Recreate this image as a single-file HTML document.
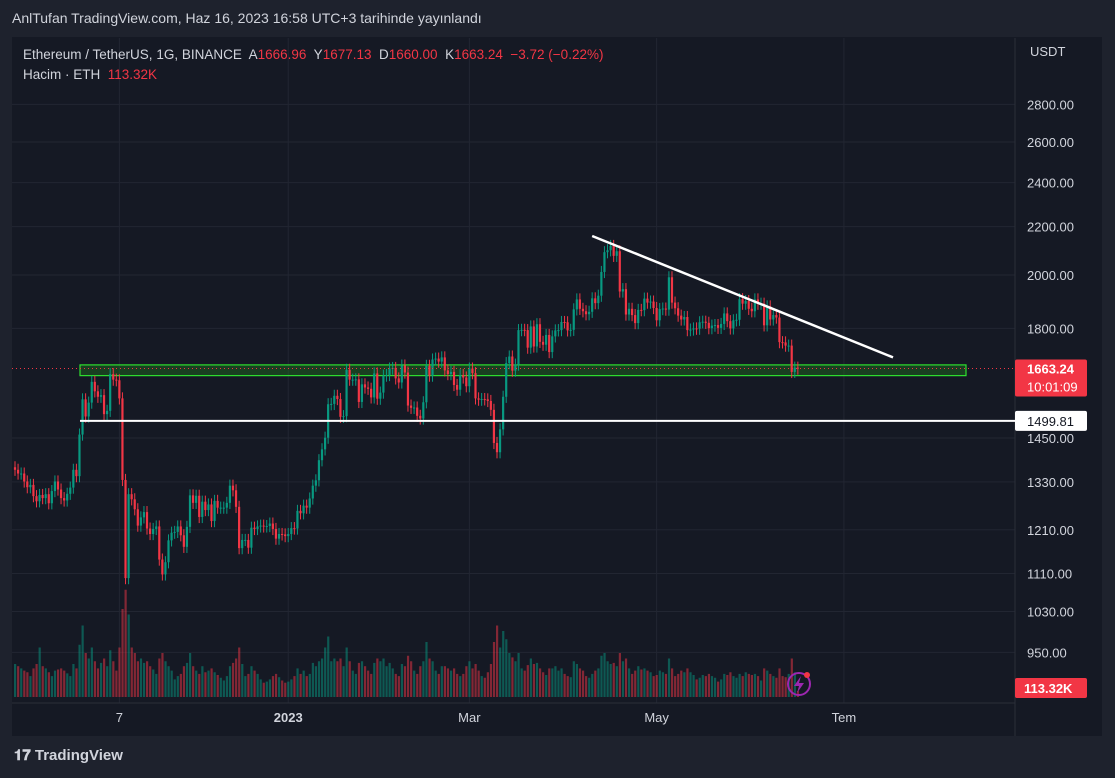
<!DOCTYPE html>
<html><head><meta charset="utf-8">
<style>
html,body{margin:0;padding:0;background:#1e222d;width:1115px;height:778px;overflow:hidden;font-family:"Liberation Sans",sans-serif;}
#hdr{position:absolute;left:12px;top:10px;color:#d1d4dc;font-size:14px;}
#frame{position:absolute;left:12px;top:37px;width:1090px;height:699px;background:#151924;}
#logo{position:absolute;left:14px;top:747px;color:#d1d4dc;font-size:15px;font-weight:bold;}
svg text{font-family:"Liberation Sans",sans-serif;}
</style></head><body>
<div id="hdr">AnlTufan TradingView.com, Haz 16, 2023 16:58 UTC+3 tarihinde yayınlandı</div>
<div id="frame"></div>
<svg id="chart" width="1115" height="778" style="position:absolute;left:0;top:0"></svg>
<div id="logo"><span style="font-weight:900">𝟏𝟕</span> TradingView</div>
<script>
const closes=[
1362,1352,1352,1331,1316,1322,1293,
1280,1296,1288,1298,1275,1306,1331,
1310,1288,1282,1299,1315,1362,1345,
1460,1565,1513,1555,1620,1590,1573,
1578,1520,1530,1645,1627,1625,1568,
1335,1100,1298,1285,1260,1220,1240,
1253,1213,1200,1212,1218,1141,1108,
1135,1185,1203,1205,1218,1197,1170,
1217,1295,1276,1294,1241,1279,1258,
1272,1231,1281,1264,1264,1264,1276,
1320,1308,1266,1167,1186,1186,1168,
1215,1212,1218,1220,1218,1219,1225,
1212,1189,1200,1199,1195,1200,1214,
1213,1256,1250,1269,1264,1287,1320,
1334,1388,1418,1451,1550,1551,1576,
1566,1512,1514,1659,1627,1627,1628,
1557,1612,1602,1598,1571,1647,1567,
1586,1640,1642,1663,1665,1631,1618,
1673,1650,1546,1539,1540,1515,1507,
1556,1672,1640,1693,1696,1686,1700,
1657,1645,1652,1610,1595,1642,1634,
1606,1663,1648,1568,1564,1566,1565,
1560,1533,1436,1410,1475,1573,1681,
1703,1656,1676,1794,1795,1794,1733,
1807,1737,1815,1753,1743,1777,1718,
1772,1793,1794,1823,1822,1793,1795,
1869,1906,1871,1862,1851,1860,1910,
1892,1920,2012,2092,2100,2118,2077,
2096,1936,1945,1850,1871,1848,1819,
1867,1866,1909,1894,1898,1874,1829,
1870,1872,1868,1991,1894,1873,1846,
1832,1841,1794,1796,1800,1799,1822,
1824,1820,1801,1810,1812,1802,1816,
1854,1826,1800,1829,1831,1907,1890,
1900,1871,1862,1906,1890,1890,1811,
1880,1832,1848,1839,1752,1751,1740,
1740,1652,1666,1663];
const volumes=[
600,560,520,480,450,380,520,
600,900,560,520,450,380,480,
500,520,480,430,380,600,520,
950,1300,800,700,900,650,520,
620,700,560,850,650,480,900,
1600,1950,1500,900,800,650,700,
620,650,560,500,420,700,800,
650,560,480,320,380,420,560,
620,800,560,480,420,560,450,
480,520,450,400,350,300,380,
560,620,700,900,600,380,420,
560,480,420,320,260,280,320,
380,420,360,300,260,280,320,
380,520,420,480,380,420,620,
560,650,700,900,1100,650,700,
650,700,560,900,650,480,420,
620,650,560,480,420,620,700,
650,700,560,620,520,420,380,
600,560,750,650,480,420,560,
650,1000,700,650,480,420,560,
560,520,480,520,420,380,420,
560,650,520,600,480,380,350,
450,600,1000,1300,900,1200,1050,
800,720,650,800,520,480,580,
700,600,620,520,450,400,520,
520,560,480,520,420,380,360,
650,600,520,480,380,350,420,
480,520,750,800,650,600,620,
560,800,650,700,520,420,480,
560,500,520,480,450,380,400,
480,450,420,700,520,380,420,
480,450,520,450,400,320,350,
400,380,420,380,350,280,320,
420,400,450,380,350,420,380,
450,420,400,420,380,300,520,
480,420,380,350,520,380,360,
420,700,450,110];
const priceTicks=[2800,2600,2400,2200,2000,1800,1450,1330,1210,1110,1030,950];
const dateTicks=[{d:34,l:"7"},{d:89,l:"2023"},{d:148,l:"Mar"},{d:209,l:"May"},{d:270,l:"Tem"}];
const lastPrice=1663.24, hLine=1499.81, zoneLow=1640, zoneHigh=1675;
const trendStart={d:188,p:2160}, trendEnd={d:286,p:1700};

const svg=document.getElementById('chart');
const NS='http://www.w3.org/2000/svg';
const Y=p=>275-507*Math.log(p/2000);
const X=d=>15+d*3.07;
const VY=v=>697-v*0.055;
function el(t,a,parent){const e=document.createElementNS(NS,t);for(const k in a)e.setAttribute(k,a[k]);(parent||svg).appendChild(e);return e;}

priceTicks.forEach(p=>{const g=el('line',{x1:12,x2:1015,y1:Y(p),y2:Y(p),stroke:'#222632','stroke-width':1});

});
dateTicks.forEach(t=>{const g=el('line',{x1:X(t.d),x2:X(t.d),y1:38,y2:703,stroke:'#222632','stroke-width':1});

});
el('line',{x1:1015,x2:1015,y1:38,y2:736,stroke:'#2a2e39'});
el('line',{x1:12,x2:1015,y1:703,y2:703,stroke:'#2a2e39'});

for(let i=0;i<volumes.length;i++){
  const up=i>0?closes[i]>=closes[i-1]:true;
  const r=el('rect',{x:X(i)-1,y:VY(volumes[i]),width:2.2,height:697-VY(volumes[i]),fill:up?'rgba(8,153,129,0.5)':'rgba(242,54,69,0.5)'});
  
  
}
const z=el('rect',{x:80,y:Y(zoneHigh),width:886,height:Y(zoneLow)-Y(zoneHigh),fill:'rgba(30,110,30,0.45)',stroke:'#2ee02e','stroke-width':1.2});


for(let i=0;i<closes.length;i++){
  const o=i>0?closes[i-1]:closes[0]*1.005, c=closes[i];
  const up=c>=o, col=up?'#089981':'#f23645';
  const hi=Math.max(o,c)*1.012, lo=Math.min(o,c)*0.988;
  const x=X(i);
  const w=el('line',{x1:x,x2:x,y1:Y(hi),y2:Y(lo),stroke:col,'stroke-width':1});
  
  
  const top=Y(Math.max(o,c)), h=Math.max(1,Y(Math.min(o,c))-top);
  const b=el('rect',{x:x-1.1,y:top,width:2.2,height:h,fill:col});
  
  
}
const hl=el('line',{x1:80,x2:1015,y1:Y(hLine),y2:Y(hLine),stroke:'#ffffff','stroke-width':2});


const tl=el('line',{x1:X(trendStart.d),y1:Y(trendStart.p),x2:X(trendEnd.d),y2:Y(trendEnd.p),stroke:'#ffffff','stroke-width':2.5});


const pl=el('line',{x1:12,x2:1015,y1:Y(lastPrice),y2:Y(lastPrice),stroke:'#f23645','stroke-width':1,'stroke-dasharray':'1 3'});



priceTicks.forEach(p=>{const t=el('text',{x:1027,y:Y(p)+5,fill:'#d1d4dc','font-size':13});t.textContent=p.toFixed(2);

});
const u=el('text',{x:1030,y:56,fill:'#d1d4dc','font-size':13});u.textContent='USDT';


dateTicks.forEach(t=>{const e=el('text',{x:X(t.d),y:722,fill:'#d1d4dc','font-size':13,'text-anchor':'middle','font-weight':t.l==='2023'?'bold':'normal'});e.textContent=t.l;

});
const ly=Y(lastPrice);
const lb=el('rect',{x:1015,y:ly-9,width:72,height:37,fill:'#f23645',rx:2});


let t1=el('text',{x:1027,y:ly+5,fill:'#fff','font-size':13,'font-weight':'bold'});t1.textContent=lastPrice.toFixed(2);
let t2=el('text',{x:1027,y:ly+23,fill:'#fff','font-size':13});t2.textContent='10:01:09';
const hy=Y(hLine);
const hb=el('rect',{x:1015,y:hy-10,width:72,height:20,fill:'#ffffff',rx:2});


let t3=el('text',{x:1027,y:hy+5,fill:'#131722','font-size':13});t3.textContent=hLine.toFixed(2);
const vb=el('rect',{x:1015,y:678,width:72,height:20,fill:'#f23645',rx:2});


let t4=el('text',{x:1024,y:693,fill:'#fff','font-size':13,'font-weight':'bold'});t4.textContent='113.32K';
const lg=el('text',{x:23,y:59,fill:'#d1d4dc','font-size':13.5});


lg.innerHTML='Ethereum / TetherUS, 1G, BINANCE  <tspan>A</tspan><tspan fill="#f23645">1666.96</tspan>  Y<tspan fill="#f23645">1677.13</tspan>  D<tspan fill="#f23645">1660.00</tspan>  K<tspan fill="#f23645">1663.24  −3.72 (−0.22%)</tspan>';
lg.style.whiteSpace='pre';
const vl=el('text',{x:23,y:79,fill:'#d1d4dc','font-size':13.5});


vl.innerHTML='Hacim · ETH  <tspan fill="#f23645">113.32K</tspan>';vl.style.whiteSpace='pre';
const ic=el('circle',{cx:799,cy:684,r:11,fill:'none',stroke:'#9c27b0','stroke-width':2});


el('path',{d:'M801 676 L794 686 L799 686 L797 693 L804 683 L799 683 Z',fill:'#9c27b0'});
el('circle',{cx:807,cy:675,r:3,fill:'#f23645'});
</script>
</body></html>
